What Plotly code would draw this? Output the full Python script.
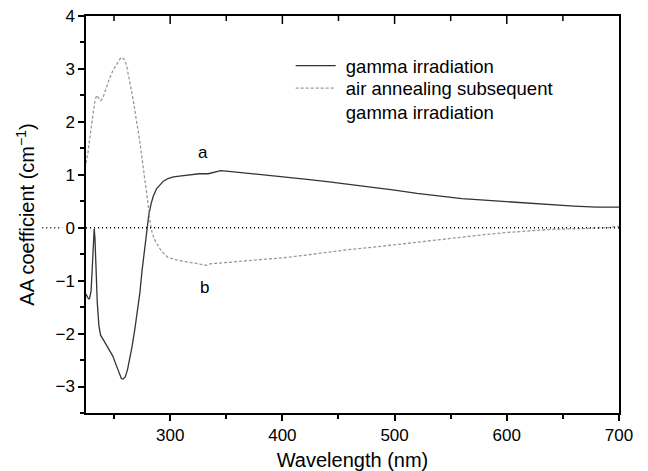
import plotly.graph_objects as go

# Curve a: gamma irradiation
wl_a = [225, 226.5, 228, 229.5, 230.5, 231.5, 232.3, 233, 234, 235, 236.5, 238, 240, 243, 246,
        249, 252, 254.5, 256.5, 258, 260, 262, 264, 266, 268.5, 271, 273, 275, 277, 279, 281,
        283, 285, 288, 291, 294, 298, 303, 310, 318, 326, 334, 340, 345, 350, 360, 370, 380,
        390, 400, 420, 440, 460, 480, 500, 520, 540, 560, 580, 600, 620, 640, 660, 680, 700]
aa_a = [-1.25, -1.32, -1.35, -1.2, -0.8, -0.3, -0.02, -0.2, -0.8, -1.4, -1.85, -2.03, -2.1, -2.22,
        -2.32, -2.43, -2.6, -2.76, -2.85, -2.86, -2.82, -2.68, -2.48, -2.25, -1.92, -1.55, -1.23,
        -0.8, -0.42, -0.05, 0.25, 0.45, 0.6, 0.74, 0.82, 0.88, 0.93, 0.96, 0.98, 1.0, 1.02, 1.02,
        1.05, 1.08, 1.07, 1.05, 1.03, 1.01, 0.99, 0.97, 0.92, 0.87, 0.82, 0.77, 0.71, 0.65, 0.6,
        0.55, 0.52, 0.49, 0.46, 0.43, 0.41, 0.39, 0.39]

# Curve b: air annealing subsequent gamma irradiation
wl_b = [225, 227, 229, 231, 233, 234.5, 236, 238, 240, 243, 246, 249, 252, 255, 257, 259, 261,
        263, 265, 267, 269, 271, 273, 275, 277.5, 280, 282, 284, 286, 288, 291, 294, 298, 304,
        310, 316, 322, 328, 332, 336, 345, 355, 370, 385, 400, 420, 440, 460, 480, 500, 520,
        540, 560, 580, 600, 620, 640, 660, 680, 690, 700]
aa_b = [1.22, 1.45, 1.8, 2.15, 2.4, 2.5, 2.45, 2.4, 2.45, 2.65, 2.82, 2.97, 3.08, 3.18, 3.22,
        3.18, 3.08, 2.88, 2.65, 2.42, 2.15, 1.9, 1.62, 1.3, 0.92, 0.5, 0.12, -0.1, -0.22, -0.3,
        -0.4, -0.48, -0.56, -0.6, -0.63, -0.65, -0.67, -0.69, -0.71, -0.68, -0.67, -0.65, -0.62,
        -0.6, -0.57, -0.52, -0.46, -0.41, -0.37, -0.32, -0.27, -0.22, -0.17, -0.13, -0.09, -0.06,
        -0.03, -0.02, -0.01, 0.0, 0.03]

major_x = [300, 400, 500, 600, 700]
minor_x = [250, 350, 450, 550, 650]

FONT = "Liberation Sans, Arial, Helvetica, sans-serif"
NB = "\u00a0"
PLOT_H = 471 - 16 - 58

fig = go.Figure()
fig.add_trace(go.Scatter(x=wl_a, y=aa_a, mode="lines", name=NB + "gamma irradiation",
                         line=dict(color="#333333", width=1.3), legend="legend"))
fig.add_trace(go.Scatter(x=wl_b, y=aa_b, mode="lines",
                         name=NB + "air annealing subsequent<br>" + NB + "gamma irradiation",
                         line=dict(color="#9a9a9a", width=1.3, dash="3px,2px"),
                         legend="legend2"))

# zero reference line (dotted) inside plot and extending left to the "0" label
fig.add_shape(type="line", xref="paper", yref="y", x0=0, x1=1, y0=0, y1=0,
              line=dict(color="black", width=1.4, dash="1px,3px"))
fig.add_shape(type="line", xref="paper", yref="y", x0=-0.082, x1=-0.044, y0=0, y1=0,
              line=dict(color="black", width=1.4, dash="1px,3px"))

# inward-pointing ticks along the top frame (mirror of the bottom axis ticks)
for v in major_x[:-1]:
    fig.add_shape(type="line", xref="x", yref="paper", x0=v, x1=v, y0=1, y1=1 - 8 / PLOT_H,
                  line=dict(color="black", width=1.5), layer="above")
for v in minor_x:
    fig.add_shape(type="line", xref="x", yref="paper", x0=v, x1=v, y0=1, y1=1 - 5 / PLOT_H,
                  line=dict(color="black", width=1.5), layer="above")

fig.add_annotation(x=329, y=1.43, text="a", showarrow=False, font=dict(size=17, color="black"))
fig.add_annotation(x=331, y=-1.13, text="b", showarrow=False, font=dict(size=17, color="black"))

tick_common = dict(tickcolor="black", tickwidth=1.5, showgrid=False, zeroline=False,
                   automargin=False)
legend_common = dict(xanchor="left", yanchor="middle", bgcolor="rgba(0,0,0,0)",
                     font=dict(size=18.5), valign="top", itemwidth=40)

fig.update_layout(
    width=648, height=471,
    margin=dict(l=86, r=29, t=16, b=58),
    paper_bgcolor="white", plot_bgcolor="white",
    font=dict(family=FONT, size=17, color="black"),
    showlegend=True,
    legend=dict(x=0.384, y=0.874, **legend_common),
    legend2=dict(x=0.384, y=0.787, **legend_common),
    xaxis=dict(range=[225, 700], tickmode="array", tickvals=major_x, ticks="outside",
               ticklen=6, showline=True, linecolor="black", linewidth=1.5, mirror=True,
               minor=dict(tickmode="array", tickvals=minor_x, ticks="outside", ticklen=4,
                          tickwidth=1.5, tickcolor="black"),
               title=dict(text="Wavelength (nm)"), **tick_common),
    yaxis=dict(range=[-3.5, 4], tickmode="linear", tick0=0, dtick=1, ticks="outside",
               ticklen=6, showline=True, linecolor="black", linewidth=1.5, mirror=True,
               minor=dict(dtick=0.5, tick0=0, ticks="outside", ticklen=4, tickwidth=1.5,
                          tickcolor="black"),
               title=dict(text="AA coefficient (cm<sup>−1</sup>)"), **tick_common),
)

fig.write_html("out.html", config={"displayModeBar": False},
               post_script="document.body.style.margin='0';")
